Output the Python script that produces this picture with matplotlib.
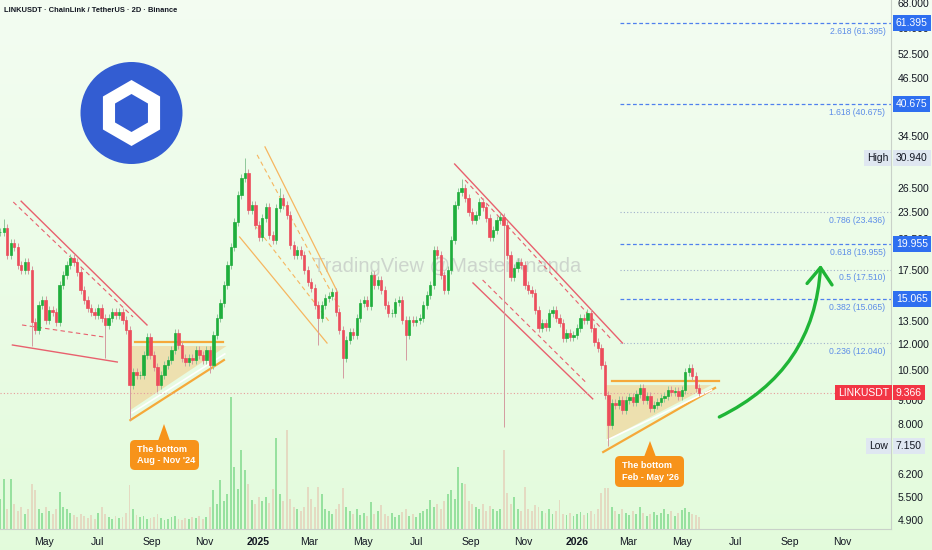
import numpy as np
import pandas as pd
import matplotlib
matplotlib.use('Agg')
from matplotlib import pyplot as plt
import matplotlib.dates as mdates
from matplotlib.patches import Circle, RegularPolygon, FancyBboxPatch, Polygon, FancyArrowPatch
from matplotlib.ticker import NullLocator, NullFormatter

plt.rcParams['font.family'] = ['Liberation Sans', 'DejaVu Sans']

# candles (2D bars, taken every ~4 days)
first_bar = '2024-03-12'
last_bar = '2026-05-21'
closes = [
    21.2, 21.6, 18.86, 20.05, 19.65, 17.93, 17.47, 18.2, 17.47, 13.4,
    12.88, 14.62, 15.0, 13.55, 14.26, 14.1, 13.4, 16.19, 17.04, 17.93,
    18.58, 18.2, 17.3, 15.78, 15.0, 14.4, 14.1, 13.9, 14.4, 13.7,
    13.21, 13.7, 14.1, 13.9, 14.1, 13.55, 12.88, 9.73, 10.4, 10.24,
    10.24, 11.34, 12.43, 11.34, 10.67, 9.73, 10.24, 10.78, 11.05, 11.63,
    12.68, 11.93, 11.16, 10.94, 11.16, 11.05, 11.63, 11.34, 11.05, 11.63,
    10.78, 12.55, 13.7, 14.77, 16.19, 17.93, 19.65, 22.3, 25.6, 27.9,
    28.6, 23.71, 24.33, 21.97, 20.67, 22.77, 24.08, 20.88, 20.36, 23.95,
    25.2, 24.33, 23.12, 19.84, 18.86, 19.35, 18.86, 17.47, 16.44, 15.94,
    14.62, 13.7, 14.62, 15.15, 15.31, 15.62, 14.1, 12.88, 11.16, 12.24,
    12.75, 12.55, 13.7, 14.77, 15.0, 14.55, 17.04, 16.19, 16.61, 15.78,
    14.62, 14.04, 14.04, 14.85, 15.0, 13.55, 12.55, 13.55, 13.4, 13.55,
    13.7, 14.62, 15.39, 16.19, 19.35, 18.86, 17.04, 15.78, 17.47, 20.36,
    24.33, 26.0, 26.5, 25.2, 23.47, 22.54, 23.12, 24.7, 24.08, 22.77,
    20.67, 21.42, 22.54, 22.9, 21.97, 18.86, 16.87, 17.65, 18.2, 17.93,
    16.19, 15.78, 15.55, 14.26, 13.0, 13.35, 13.08, 14.04, 14.26, 13.7,
    13.35, 12.36, 12.68, 12.43, 12.55, 13.0, 13.7, 13.55, 14.04, 13.0,
    12.12, 11.75, 10.78, 9.25, 7.94, 8.88, 8.79, 9.02, 8.57, 9.02,
    9.16, 8.93, 9.3, 9.59, 9.02, 9.2, 8.66, 8.79, 8.93, 9.11,
    9.2, 9.49, 9.4, 9.44, 9.2, 9.49, 10.4, 10.61, 10.19, 9.59,
    9.366]
volumes = [
    3.0, 5.0, 2.0, 5.0, 2.5, 1.8, 2.2, 1.5, 2.0, 4.5,
    3.9, 2.0, 1.6, 2.2, 1.8, 1.5, 2.0, 3.7, 2.2, 2.0,
    1.6, 1.4, 1.2, 1.5, 1.3, 1.1, 1.4, 1.0, 1.6, 2.2,
    1.5, 1.2, 1.0, 1.3, 1.1, 1.2, 1.6, 4.4, 2.0, 1.4,
    1.2, 1.3, 1.0, 1.1, 1.2, 1.5, 1.1, 0.9, 1.0, 1.2,
    1.3, 1.0, 0.9, 1.1, 1.0, 1.2, 1.1, 1.3, 1.0, 1.2,
    2.2, 3.9, 2.5, 4.9, 2.8, 3.5, 13.2, 6.2, 4.0, 7.9,
    5.9, 4.5, 2.9, 2.5, 3.2, 2.8, 3.2, 2.6, 4.0, 9.1,
    3.5, 2.8, 9.9, 3.0, 2.2, 2.0, 1.8, 2.2, 4.2, 3.0,
    2.2, 4.2, 3.5, 2.0, 1.8, 1.5, 2.0, 2.5, 4.1, 2.2,
    1.8, 1.5, 2.0, 1.4, 1.6, 1.3, 2.7, 1.5, 1.8, 2.4,
    1.5, 1.3, 1.6, 1.2, 1.4, 1.7, 2.0, 1.3, 1.5, 1.2,
    1.6, 1.8, 2.0, 2.9, 2.2, 2.5, 2.0, 2.8, 3.5, 3.9,
    3.0, 6.2, 4.6, 4.5, 2.8, 2.5, 2.2, 2.0, 2.5, 1.8,
    2.3, 2.0, 1.8, 2.0, 7.9, 3.6, 2.5, 3.2, 2.0, 1.8,
    4.2, 2.0, 1.8, 2.4, 2.2, 1.8, 1.6, 2.0, 1.5, 1.8,
    2.9, 1.5, 1.4, 1.6, 1.3, 1.5, 1.7, 1.4, 1.6, 1.8,
    1.5, 2.0, 3.6, 4.1, 4.1, 2.2, 1.8, 1.5, 2.0, 1.6,
    1.4, 1.8, 1.5, 2.2, 1.6, 1.3, 1.5, 1.7, 1.4, 1.6,
    2.0, 1.5, 1.8, 1.3, 1.6, 1.9, 2.1, 1.7, 1.5, 1.4,
    1.2]
# long wicks (bar index -> price)
spike_highs = {1: 22.6, 70: 30.94, 80: 26.5, 132: 27.8}
spike_lows = {9: 11.86, 30: 11.16, 37: 8.14, 45: 9.4, 60: 10.35, 91: 11.93,
              98: 10.08, 116: 11.05, 144: 7.86, 174: 7.15}

last_price = 9.366
high_price = 30.940
low_price = 7.150

fib_ratios = ['2.618', '1.618', '0.786', '0.618', '0.5', '0.382', '0.236']
fib_levels = [61.395, 40.675, 23.436, 19.955, 17.510, 15.065, 12.040]
fib_marked = [True, True, False, True, False, True, False]

price_ticks = [68, 60, 52.5, 46.5, 34.5, 26.5, 23.5, 20.5, 17.5,
               13.5, 12, 10.5, 9, 8, 6.2, 5.5, 4.9]
month_ticks = ['2024-05-01', '2024-07-01', '2024-09-01', '2024-11-01',
               '2025-01-01', '2025-03-01', '2025-05-01', '2025-07-01',
               '2025-09-01', '2025-11-01', '2026-01-01', '2026-03-01',
               '2026-05-01', '2026-07-01', '2026-09-01', '2026-11-01']
month_labels = ['May', 'Jul', 'Sep', 'Nov', '2025', 'Mar', 'May', 'Jul',
                'Sep', 'Nov', '2026', 'Mar', 'May', 'Jul', 'Sep', 'Nov']

GREEN = '#1fae3c'
RED = '#ec4d5c'
ORANGE = '#f7931a'
TEXT = '#131722'
W, H = 932, 550

fig = plt.figure(figsize=(W / 100, H / 100), dpi=100)

# pale green background
bg = fig.add_axes([0, 0, 1, 1], zorder=-5)
bg.axis('off')
top = np.array([0.955, 0.992, 0.948])
bot = np.array([0.890, 0.985, 0.862])
t = np.linspace(0, 1, 256)[:, None, None]
bg.imshow(top + (bot - top) * t, aspect='auto', extent=[0, 1, 0, 1])

ax = fig.add_axes([0, 21 / H, 891 / W, 529 / H], zorder=1)
ax.patch.set_visible(False)
vax = ax.twinx()
vax.set_zorder(0)
vax.patch.set_visible(False)

d = mdates.datestr2num
dates = mdates.date2num(pd.date_range(first_bar, last_bar, periods=len(closes)))
c = np.array(closes)
o = np.r_[c[0], c[:-1]]
up = c >= o
hi = np.maximum(o, c) * 1.02
lo = np.minimum(o, c) / 1.02
for i, v in spike_highs.items():
    hi[i] = v
for i, v in spike_lows.items():
    lo[i] = v

# volume
vcol = np.where(up, '#97e19f', '#e4dac2')
vax.bar(dates, volumes, width=2.2, color=vcol, linewidth=0)
vax.set_ylim(0, 52.9)
vax.set_yticks([])
for s in vax.spines.values():
    s.set_visible(False)

# candles
ccol = np.where(up, GREEN, RED)
ax.vlines(dates, lo, hi, colors=np.where(up, '#8fc89a', '#d49aa0'), lw=0.7, zorder=3)
ax.bar(dates, np.abs(c - o), bottom=np.minimum(o, c), width=2.6,
       color=ccol, edgecolor=ccol, linewidth=0.5, zorder=4)

ax.set_yscale('log')
x0 = d('2025-01-01')
ax.set_xlim(x0 - 295.2, x0 + 724.3)
ax.set_ylim(4.677, 69.05)

# pattern drawings
wedge_red = '#e8606e'
lines = [
    ('2024-04-05', 24.8, '2024-08-27', 13.21, wedge_red, '-', 1.0),
    ('2024-03-27', 24.7, '2024-08-11', 13.76, wedge_red, (0, (4, 3)), 0.8),
    ('2024-03-26', 11.93, '2024-07-24', 10.94, wedge_red, '-', 1.0),
    ('2024-04-06', 13.21, '2024-07-08', 12.43, wedge_red, (0, (4, 3)), 0.8),
    ('2025-01-09', 32.7, '2025-04-02', 15.62, '#f6b660', '-', 0.9),
    ('2024-12-31', 31.4, '2025-04-04', 14.47, '#f6b660', (0, (4, 3)), 0.8),
    ('2024-12-11', 20.67, '2025-03-21', 12.05, '#f6b660', '-', 0.9),
    ('2024-12-28', 21.97, '2025-03-24', 13.4, '#f6b660', (0, (4, 3)), 0.8),
    ('2025-08-14', 29.97, '2026-02-22', 12.05, wedge_red, '-', 1.0),
    ('2025-08-26', 27.62, '2026-02-10', 12.24, wedge_red, (0, (4, 3)), 0.8),
    ('2025-09-04', 16.36, '2026-01-19', 9.07, wedge_red, '-', 1.0),
    ('2025-09-15', 16.61, '2026-01-12', 9.83, wedge_red, (0, (4, 3)), 0.8),
]
for a, pa, b, pb, col, ls, lw in lines:
    ax.plot([d(a), d(b)], [pa, pb], color=col, ls=ls, lw=lw, zorder=2)

triangles = [
    (('2024-08-08', 11.87), ('2024-11-26', 11.87), ('2024-08-08', 8.57),
     ('2024-08-13', '2024-11-22', 12.12),
     ('2024-08-08', 8.14, '2024-11-23', 11.05),
     ('2024-08-10', 8.45, '2024-11-24', 11.4)),
    (('2026-02-04', 9.73), ('2026-06-04', 9.73), ('2026-02-04', 7.36),
     ('2026-02-10', '2026-06-12', 9.93),
     ('2026-01-31', 6.92, '2026-06-08', 9.59),
     ('2026-02-05', 7.36, '2026-06-04', 9.49)),
]
for p1, p2, p3, top_line, support, shine in triangles:
    ax.add_patch(Polygon([(d(p1[0]), p1[1]), (d(p2[0]), p2[1]), (d(p3[0]), p3[1])],
                         closed=True, fc='#f2cf8e', ec='none', alpha=0.6, zorder=1))
    ax.plot([d(top_line[0]), d(top_line[1])], [top_line[2]] * 2, color='#f5a93a', lw=1.6, zorder=2)
    ax.plot([d(support[0]), d(support[2])], [support[1], support[3]], color='#f5a93a', lw=1.6, zorder=2)
    ax.plot([d(shine[0]), d(shine[2])], [shine[1], shine[3]], color='white', lw=1.2, zorder=2)

# fib levels
fib_start = d('2026-02-19')
xr = ax.get_xlim()[1]
for r, lvl, mk in zip(fib_ratios, fib_levels, fib_marked):
    if mk:
        ax.plot([fib_start, xr], [lvl, lvl], color='#4f80ee', lw=0.9, ls=(0, (3, 2)), zorder=2)
    else:
        ax.plot([fib_start, xr], [lvl, lvl], color='#9fb0cc', lw=0.8, ls=(0, (1, 2)), zorder=2)
    ax.annotate('%s (%.3f)' % (r, lvl), xy=(1, lvl), xycoords=ax.get_yaxis_transform(),
                xytext=(-4, -6), textcoords='offset points', ha='right', va='center',
                fontsize=6.2, color='#5d8de8', zorder=5)

ax.axhline(last_price, color='#e79a9a', lw=0.8, ls=(0, (1, 2)), zorder=2)

# green projection arrow
ax.add_patch(FancyArrowPatch((d('2026-06-10'), 8.22), (d('2026-10-07'), 18.2),
                             connectionstyle='arc3,rad=0.3',
                             arrowstyle='->,head_length=0.6,head_width=0.45',
                             mutation_scale=20, color='#1fb536', lw=2.4, zorder=5))

# watermark
ax.text(0.502, 0.497, 'TradingView @MasterAnanda', transform=ax.transAxes,
        ha='center', va='center', fontsize=14.5, color='#cdd5cd', zorder=0.5)

# axes styling
ax.yaxis.tick_right()
ax.yaxis.set_minor_locator(NullLocator())
ax.yaxis.set_minor_formatter(NullFormatter())
ax.set_yticks(price_ticks)
ax.set_yticklabels(['%.3f' % p for p in price_ticks])
ax.set_xticks([d(m) for m in month_ticks])
ax.set_xticklabels(month_labels)
for lab, txt in zip(ax.get_xticklabels(), month_labels):
    if txt.isdigit():
        lab.set_fontweight('bold')
ax.tick_params(axis='both', length=0, labelsize=7.5, colors=TEXT)
ax.tick_params(axis='y', pad=4.5)
ax.tick_params(axis='x', pad=6)
for s in ['top', 'left']:
    ax.spines[s].set_visible(False)
ax.spines['right'].set_color('#c9d1c9')
ax.spines['bottom'].set_color('#c9d1c9')
ax.spines['right'].set_linewidth(0.8)
ax.spines['bottom'].set_linewidth(0.8)

# price labels on the scale
ytr = ax.get_yaxis_transform()
def scale_label(txt, price, fc, color, dx, ha):
    ax.annotate(txt, xy=(1, price), xycoords=ytr, xytext=(dx, 0), textcoords='offset points',
                ha=ha, va='center', fontsize=7.5, color=color, annotation_clip=False,
                bbox=dict(boxstyle='square,pad=0.28', fc=fc, ec='none'), zorder=10)

for lvl, mk in zip(fib_levels, fib_marked):
    if mk:
        scale_label('%.3f' % lvl, lvl, '#2f6ff0', 'white', 3.5, 'left')
scale_label('High', high_price, '#dfe7f1', TEXT, -2, 'right')
scale_label('%.3f' % high_price, high_price, '#dfe7f1', TEXT, 3.5, 'left')
scale_label('Low', low_price, '#dfe7f1', TEXT, -2, 'right')
scale_label('%.3f' % low_price, low_price, '#dfe7f1', TEXT, 3.5, 'left')
scale_label('LINKUSDT', last_price, '#f23645', 'white', -1.5, 'right')
scale_label('%.3f' % last_price, last_price, '#f23645', 'white', 3.5, 'left')

# overlay in pixel units for logo, title and callouts
ov = fig.add_axes([0, 0, 1, 1], zorder=20)
ov.set_xlim(0, W)
ov.set_ylim(H, 0)
ov.axis('off')

ov.text(4, 10, 'LINKUSDT · ChainLink / TetherUS · 2D · Binance', fontsize=5.4,
        color=TEXT, va='center', ha='left', fontweight='bold')

ov.add_patch(Circle((131.5, 113), 51, fc='#335dd2', ec='none'))
ov.add_patch(RegularPolygon((131.5, 113), 6, radius=33, orientation=0, fc='white', ec='none'))
ov.add_patch(RegularPolygon((131.5, 113), 6, radius=19, orientation=0, fc='#335dd2', ec='none'))

callouts = [((130, 440, 69, 30), 164, 424, "The bottom\nAug - Nov '24"),
            ((615, 456, 69, 31), 650, 441, "The bottom\nFeb - May '26")]
for (bx, by, bw, bh), tx, ty, txt in callouts:
    ov.add_patch(FancyBboxPatch((bx, by), bw, bh, boxstyle='round,pad=0,rounding_size=5',
                                fc=ORANGE, ec='none'))
    ov.add_patch(Polygon([(tx - 6, by + 1), (tx + 6, by + 1), (tx, ty)], fc=ORANGE, ec='none'))
    ov.text(bx + 7, by + bh / 2, txt, fontsize=6.6, color='white', fontweight='bold',
            ha='left', va='center', linespacing=1.3)

fig.savefig('out.png', dpi=100)
